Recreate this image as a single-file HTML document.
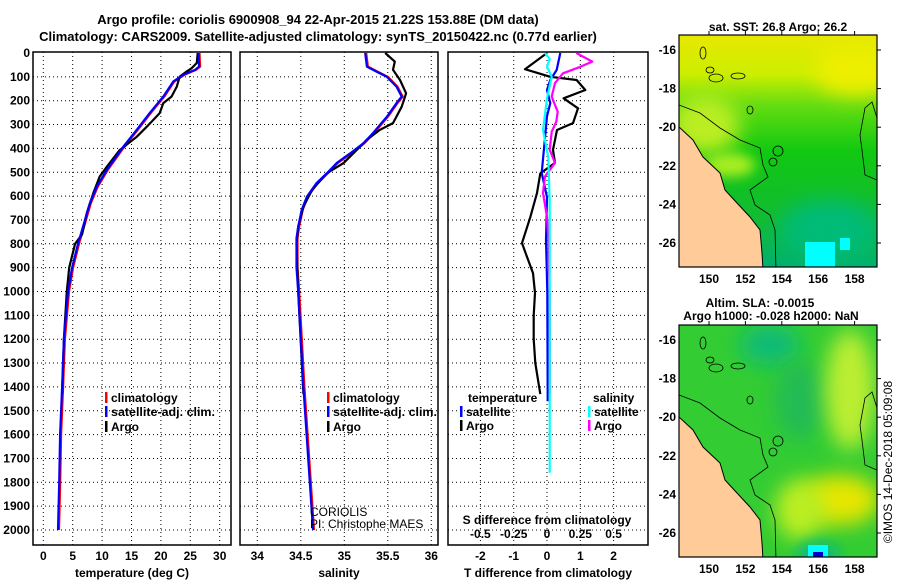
<!DOCTYPE html>
<html><head><meta charset="utf-8">
<style>
body{margin:0;background:#fff;}
svg text{font-family:"Liberation Sans",sans-serif;font-weight:bold;font-size:12px;fill:#000;}
</style></head>
<body>
<svg id="fig" width="900" height="580" viewBox="0 0 900 580" xmlns="http://www.w3.org/2000/svg">
<defs>
 <filter id="blur6" x="-100%" y="-100%" width="300%" height="300%"><feGaussianBlur stdDeviation="6"/></filter>
 <filter id="blur10" x="-100%" y="-100%" width="300%" height="300%"><feGaussianBlur stdDeviation="10"/></filter>
 <clipPath id="m1clip"><rect x="679" y="35" width="198" height="232"/></clipPath>
 <clipPath id="m2clip"><rect x="679" y="325" width="198" height="232"/></clipPath>
 <linearGradient id="g1" x1="0" y1="0" x2="0" y2="1">
  <stop offset="0" stop-color="#e8e800"/><stop offset="0.17" stop-color="#ccee00"/>
  <stop offset="0.3" stop-color="#66dd11"/><stop offset="0.5" stop-color="#11c811"/>
  <stop offset="0.8" stop-color="#11bb33"/><stop offset="1" stop-color="#00b070"/>
 </linearGradient>
</defs>
<text x="318" y="24" text-anchor="middle" style="font-size:13px">Argo profile: coriolis 6900908_94 22-Apr-2015 21.22S 153.88E (DM data)</text>
<text x="318" y="41" text-anchor="middle" style="font-size:13px">Climatology: CARS2009. Satellite-adjusted climatology: synTS_20150422.nc (0.77d earlier)</text>
<g id="axes"></g>
<g id="maps"></g>
<text transform="translate(892,462) rotate(-90)" text-anchor="middle" style="font-weight:normal;font-size:12px">©IMOS 14-Dec-2018 05:09:08</text>
</svg>
<script>
// ---------- data ----------
const climDepth=[0,57,71,92,120,183,252,322,393,490,560,630,700,800,900,1000,1200,1400,1600,1800,2000];
const climTemp=[26.4,26.5,25.8,23.8,22.1,20.4,18.1,15.9,13.6,10.8,9.1,7.9,7.1,5.9,4.9,4.2,3.5,3.2,2.85,2.7,2.5];
const climSalDepth=[0,57,78,100,141,183,210,267,336,378,420,462,504,546,602,658,728,776,900,1000,1400,2000];
const climSal=[35.24,35.26,35.37,35.49,35.6,35.66,35.6,35.49,35.33,35.22,35.07,34.91,34.8,34.68,34.57,34.51,34.47,34.45,34.45,34.47,34.53,34.64];
const argoDepth=[0,42,64,77,99,141,183,210,252,309,351,407,477,518,588,671,760,800,900,1000,1200,1430];
const argoTemp=[26.26,26.1,25.2,24.4,23.2,22.7,21.8,20.4,19.8,17.6,15.9,13.0,10.8,9.6,8.5,7.4,6.6,5.4,4.4,4.0,3.5,3.2];
const argoSalDepth=[0,36,70,113,169,225,294,322,364,462,504,574,644,728,800,1000,1430];
const argoSal=[35.47,35.58,35.56,35.64,35.71,35.66,35.56,35.41,35.26,34.99,34.8,34.63,34.53,34.47,34.45,34.47,34.53];
const tdArgoDepth=[0,68,100,113,155,190,232,294,323,406,461,505,587,687,797,855,923,1006,1100,1200,1300,1430];
const tdArgo=[0,-0.66,0.1,0.89,1.15,0.5,0.93,0.78,0.3,0.18,0.24,-0.2,-0.3,-0.5,-0.75,-0.6,-0.42,-0.36,-0.4,-0.4,-0.35,-0.2];
const tdSatDepth=[0,71,113,155,210,265,356,503,604,785,1000,1460];
const tdSat=[0.4,0.29,0.1,0,0.1,0,-0.06,-0.16,0,-0.03,0.01,0.02];
const sdArgoDepth=[0,36,58,85,126,183,246,288,330,406,461,518,587,687,780,1023,1430];
const sdArgo=[0.22,0.34,0.25,0.12,0.06,0.035,0.08,0.07,0.035,0.02,0.06,-0.015,-0.03,0,0.01,0.02,0.02];
const sdSatDepth=[0,25,57,100,190,323,436,625,1000,1760];
const sdSat=[-0.015,0.02,0,0.035,0,-0.03,0.01,0.02,0.02,0.02];
const depthTicks=[0,100,200,300,400,500,600,700,800,900,1000,1100,1200,1300,1400,1500,1600,1700,1800,1900,2000];
const tempTicks=[0,5,10,15,20,25,30];
const salTicks=[34,34.5,35,35.5,36];
const tdTicks=[-2,-1,0,1,2];
const sdTicks=[-0.5,-0.25,0,0.25,0.5];
const sdTickLabels=["-0.5","-0.25","0","0.25","0.5"];
// ---------- scales ----------
const NS="http://www.w3.org/2000/svg";
const Y=d=>53+d*0.2385;
const XT=t=>43.3+t*5.88;
const XS=s=>257.3+(s-34)*87;
const XTD=t=>547+t*33.3;
const XSD=s=>547+s*133.2;
const ax=document.getElementById('axes');
function mk(tag,attrs,parent){const e=document.createElementNS(NS,tag);for(const k in attrs)e.setAttribute(k,attrs[k]);(parent||ax).appendChild(e);return e;}
function txt(x,y,s,anchor,parent,extra){const t=mk('text',Object.assign({x:x,y:y,'text-anchor':anchor||'start'},extra||{}),parent);t.textContent=s;return t;}
const panels=[{x0:33,x1:231,name:'temperature'},{x0:240,x1:438,name:'salinity'},{x0:448,x1:648,name:'difference'}];
panels.forEach(p=>{
 const g=mk('g',{});
 
 
 depthTicks.forEach(d=>{ if(d>0) mk('line',{x1:p.x0,x2:p.x1,y1:Y(d),y2:Y(d),stroke:'#000','stroke-dasharray':'1,3'},g);});
 p.g=g;
});
function vgrid(p,xs){xs.forEach(x=>mk('line',{x1:x,x2:x,y1:52,y2:545,stroke:'#000','stroke-dasharray':'1,3'},p.g));}
vgrid(panels[0],tempTicks.map(XT));
vgrid(panels[1],salTicks.map(XS));
vgrid(panels[2],tdTicks.map(XTD));
depthTicks.forEach(d=>{const t=txt(30,Y(d)+4,String(d),'end');
 
 });
tempTicks.forEach(v=>txt(XT(v),560,String(v),'middle'));
salTicks.forEach(v=>txt(XS(v),560,String(v),'middle'));
tdTicks.forEach(v=>txt(XTD(v),560,String(v),'middle'));
sdTicks.forEach((v,i)=>txt(XSD(v),538,sdTickLabels[i],'middle'));
const xt1=txt(132,577,'temperature (deg C)','middle');


const xt2=txt(339,577,'salinity','middle');


const xt3=txt(548,577,'T difference from climatology','middle');


const st=txt(547,524,'S difference from climatology','middle');


function line(ds,vs,xf,col,name,dx){
 const pts=ds.map((d,i)=>(xf(vs[i])+(dx||0)).toFixed(1)+','+Y(d).toFixed(1)).join(' ');
 const pl=mk('polyline',{points:pts,fill:'none',stroke:col,'stroke-width':2.2,'stroke-linejoin':'round'});
 
 
}
line(climDepth,climTemp,XT,'#ff0000','clim-temperature-line',1);
line(argoDepth,argoTemp,XT,'#000','argo-temperature-line');
line(climDepth,climTemp,XT,'#0000ff','satellite-temperature-line');
line(climSalDepth,climSal,XS,'#ff0000','clim-salinity-line',1);
line(argoSalDepth,argoSal,XS,'#000','argo-salinity-line');
line(climSalDepth,climSal,XS,'#0000ff','satellite-salinity-line');
line(tdArgoDepth,tdArgo,XTD,'#000','argo-t-diff-line');
line(tdSatDepth,tdSat,XTD,'#0000ff','satellite-t-diff-line');
line(sdArgoDepth,sdArgo,XSD,'#ff00ff','argo-s-diff-line');
line(sdSatDepth,sdSat,XSD,'#00ffff','satellite-s-diff-line');
panels.forEach(p=>mk('rect',{x:p.x0,y:52,width:p.x1-p.x0,height:493,fill:'none',stroke:'#000','stroke-width':1.5},p.g));
function legend(x,y,col,label,name,len){
 const g=mk('g',{});
 
 
 mk('rect',{x:x,y:y-10,width:2.5,height:11,fill:col},g);
 const t=txt(x+6,y,label,'start',g);
 if(len){t.setAttribute('textLength',len);t.setAttribute('lengthAdjust','spacingAndGlyphs');}
}
legend(105,402,'#ff0000','climatology','legend-climatology');
legend(105,416,'#0000ff','satellite-adj. clim.','legend-satellite-adj',104);
legend(105,431,'#000','Argo','legend-argo');
legend(327,402,'#ff0000','climatology','legend-climatology-sal');
legend(327,416,'#0000ff','satellite-adj. clim.','legend-satellite-adj-sal',104);
legend(327,431,'#000','Argo','legend-argo-sal');
txt(468,402,'temperature');
legend(460,416,'#0000ff','satellite','legend-t-satellite');
legend(460,430,'#000','Argo','legend-t-argo');
txt(593,402,'salinity');
legend(588,416,'#00ffff','satellite','legend-s-satellite');
legend(588,430,'#ff00ff','Argo','legend-s-argo');
txt(310,516,'CORIOLIS','start',ax,{style:'font-weight:normal'});
txt(310,528,'PI: Christophe MAES','start',ax,{style:'font-weight:normal'});

// ---------- maps ----------
const mp=document.getElementById('maps');
const latTicks=[16,18,20,22,24,26];
const lonTicks=[150,152,154,156,158];
const LY=(lat,oy)=>oy+50+(lat-16)*19.3-35;
const LX=lon=>709+(lon-150)*18.2;
function mapFrame(oy,clip,name,fill){
 const g=mk('g',{'clip-path':'url(#'+clip+')'},mp);
 
 
 fill(g);
 const land=[[679,127],[693,140],[703,157],[720,173],[725,190],[737,203],[750,217],[760,230],[762,253],[763,270],[679,270]];
 mk('polygon',{points:land.map(p=>p[0]+','+(p[1]+oy-35)).join(' '),fill:'#ffcc99',stroke:'#000','stroke-width':1},g);
 const iso=[[679,105],[700,113],[720,128],[740,140],[760,148],[763,165],[768,177],[750,190],[755,205],[770,215],[775,230],[776,270]];
 mk('polyline',{points:iso.map(p=>p[0]+','+(p[1]+oy-35)).join(' '),fill:'none',stroke:'#000','stroke-width':0.8},g);
 mk('polyline',{points:[[877,180],[865,175],[862,150],[860,135],[865,108],[872,102],[877,118]].map(p=>p[0]+','+(p[1]+oy-35)).join(' '),fill:'none',stroke:'#000','stroke-width':0.8},g);
 [[703,53,3,6],[710,70,4,3],[716,78,7,4],[738,76,7,3],[750,110,3,4],[778,151,5,5],[773,162,4,4]].forEach(c=>mk('ellipse',{cx:c[0],cy:c[1]+oy-35,rx:c[2],ry:c[3],fill:'none',stroke:'#000','stroke-width':0.8},g));
 mk('rect',{x:679,y:oy,width:198,height:232,fill:'none',stroke:'#000','stroke-width':1.2},mp);
 latTicks.forEach(l=>{txt(676,LY(l,oy)+4,'-'+l,'end',mp);mk('line',{x1:877,x2:881,y1:LY(l,oy),y2:LY(l,oy),stroke:'#000'},mp);});
 lonTicks.forEach(l=>{txt(LX(l),oy+248,String(l),'middle',mp);mk('line',{x1:LX(l),x2:LX(l),y1:oy-4,y2:oy,stroke:'#000'},mp);});
}
mapFrame(35,'m1clip','sst-map',g=>{
 mk('rect',{x:679,y:35,width:198,height:232,fill:'url(#g1)'},g);
 mk('ellipse',{cx:705,cy:125,rx:35,ry:30,fill:'#bbee22',filter:'url(#blur10)'},g);
 mk('ellipse',{cx:730,cy:165,rx:25,ry:12,fill:'#aaee22',filter:'url(#blur6)'},g);
 mk('ellipse',{cx:855,cy:70,rx:40,ry:25,fill:'#eeee00',filter:'url(#blur10)'},g);
 mk('ellipse',{cx:830,cy:230,rx:50,ry:30,fill:'#00bb77',filter:'url(#blur10)'},g);
 mk('rect',{x:805,y:242,width:30,height:25,fill:'#00ffff'},g);
 mk('rect',{x:840,y:238,width:10,height:12,fill:'#00ffff'},g);
});
txt(778,31,'sat. SST: 26.8 Argo: 26.2','middle',mp);
mapFrame(325,'m2clip','sla-map',g=>{
 mk('rect',{x:679,y:325,width:198,height:232,fill:'#33cc33'},g);
 mk('ellipse',{cx:770,cy:345,rx:30,ry:20,fill:'#11bb77',filter:'url(#blur10)'},g);
 mk('ellipse',{cx:800,cy:400,rx:25,ry:40,fill:'#22bb55',filter:'url(#blur10)'},g);
 mk('ellipse',{cx:850,cy:390,rx:25,ry:60,fill:'#bbee33',filter:'url(#blur10)'},g);
 mk('ellipse',{cx:840,cy:500,rx:40,ry:25,fill:'#e6e600',filter:'url(#blur10)'},g);
 mk('ellipse',{cx:800,cy:510,rx:25,ry:30,fill:'#bbee22',filter:'url(#blur10)'},g);
 mk('ellipse',{cx:818,cy:555,rx:22,ry:14,fill:'#11bb77',filter:'url(#blur6)'},g);
 mk('rect',{x:808,y:545,width:20,height:12,fill:'#00ffff'},g);
 mk('rect',{x:813,y:552,width:10,height:5,fill:'#0000cc'},g);
});
txt(760,307,'Altim. SLA: -0.0015','middle',mp);
txt(771,320,'Argo h1000: -0.028 h2000: NaN','middle',mp);
</script>
</body></html>
